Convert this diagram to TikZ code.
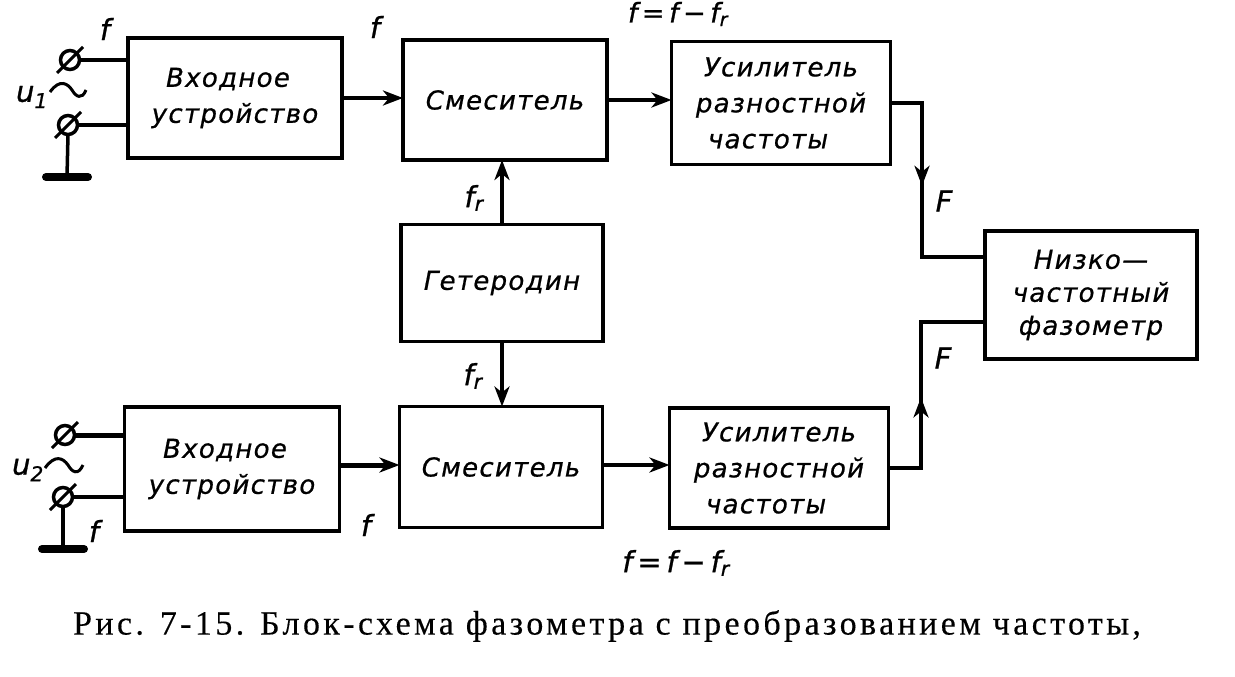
\documentclass[tikz,border=0pt]{standalone}
\usepackage{fontspec}
\setmainfont{Liberation Serif}
\newfontfamily\blockfont[LetterSpace=5,FakeBold=0.7]{DejaVu Sans}
\newfontfamily\labfont[FakeBold=0.9]{DejaVu Sans}
\newfontfamily\capfont[LetterSpace=10,FakeBold=0.3]{Liberation Serif}
\usetikzlibrary{arrows.meta,decorations.markings}
\tikzset{
  x=1pt,y=-1pt,
  blockbox/.style={draw=black,line width=3.5pt,fill=white,inner sep=0pt,outer sep=0pt,align=center,
    font=\blockfont\itshape\fontsize{26}{36}\selectfont},
  wire/.style={draw=black,line width=3.5pt},
  thickwire/.style={draw=black,line width=5pt},
  headend/.style={-{Stealth[length=20pt,width=15pt,inset=6pt]}},
  midhead/.style={postaction={decorate},decoration={markings,mark=at position #1 with {\arrow{Stealth[length=20pt,width=15pt,inset=6pt]}}}},
  term/.style={circle,draw=black,line width=3.5pt,minimum size=19pt,inner sep=0pt,outer sep=0pt},
  lab/.style={inner sep=0pt,font=\labfont\itshape\fontsize{29}{30}\selectfont},
  sl/.style={draw=black,line width=3pt},
  groundbar/.style={draw=black,line width=8pt,line cap=round},
}
\begin{document}
\begin{tikzpicture}
\useasboundingbox (0,0) rectangle (1235,677);
% blocks
\node[blockbox,minimum width=214pt,minimum height=120pt] (in1) at (235,98) {\hspace*{-0pt}Входное\hspace*{14pt}\\устройство};
\node[blockbox,minimum width=204pt,minimum height=120pt] (mx1) at (505,100) {Смеситель};
\node[blockbox,minimum width=219pt,minimum height=123pt] (am1) at (781,103) {Усилитель\\разностной\\частоты\hspace*{26pt}};
\node[blockbox,minimum width=202pt,minimum height=117pt] (het) at (502,283) {Гетеродин};
\node[blockbox,minimum width=215pt,minimum height=124pt] (in2) at (232,469) {Входное\hspace*{14pt}\\устройство};
\node[blockbox,minimum width=203pt,minimum height=121pt] (mx2) at (501,467) {Смеситель};
\node[blockbox,minimum width=219pt,minimum height=120pt] (am2) at (779,468) {Усилитель\\разностной\\частоты\hspace*{26pt}};
\node[blockbox,minimum width=212pt,minimum height=128pt,font=\blockfont\itshape\fontsize{26}{33}\selectfont] (ph) at (1091,295) {Низко—\\частотный\\фазометр};
% terminals
\node[term] (t1a) at (70,60) {};
\node[term] (t1b) at (68,125) {};
\node[term] (t2a) at (65,435) {};
\node[term] (t2b) at (63,497) {};
\foreach \n in {t1a,t1b,t2a,t2b}{
  \draw[sl] ([shift={(-13,13)}]\n.center) -- ([shift={(13,-13)}]\n.center);
}
\draw[wire] (t1a.east) -- (t1a.east -| in1.west);
\draw[wire] (t1b.east) -- (t1b.east -| in1.west);
\draw[thickwire] (t2a.east) -- (t2a.east -| in2.west);
\draw[wire] (t2b.east) -- (t2b.east -| in2.west);
% ground
\coordinate (g1) at (67,177);
\coordinate (g2) at (63,549);
\draw[wire] (t1b.south) -- (g1);
\draw[wire] (t2b.south) -- (g2);
\draw[groundbar] ([xshift=-21]g1) -- ([xshift=21]g1);
\draw[groundbar] ([xshift=-21]g2) -- ([xshift=21]g2);
% tilde
\draw[line width=3pt] (50,92) .. controls (60,78) and (68,84) .. (72,90) .. controls (76,97) and (82,100) .. (86,90);
\draw[line width=3pt] (45,468) .. controls (55,454) and (63,458) .. (68,465) .. controls (72,472) and (78,476) .. (83,465);
% connectors
\draw[wire,headend] (in1.east |- 0,98) -- (mx1.west |- 0,98);
\draw[wire,headend] (mx1.east |- 0,100) -- (am1.west |- 0,100);
\draw[thickwire,headend] (in2.east |- 0,465) -- (mx2.west |- 0,465);
\draw[wire,headend] (mx2.east |- 0,465) -- (am2.west |- 0,465);
\draw[wire,headend] (het.north) -- (het.north |- mx1.south);
\draw[wire,headend] (het.south) -- (het.south |- mx2.north);
\coordinate (e1) at (922,103);
\coordinate (e2) at (922,257);
\coordinate (e3) at (921,322);
\coordinate (e4) at (921,468);
\draw[wire,midhead=0.46] (e1 -| am1.east) -- (e1) -- (e2) -- (e2 -| ph.west);
\draw[wire,midhead=0.425] (e4 -| am2.east) -- (e4) -- (e3) -- (e3 -| ph.west);
% labels
\node[lab] (l1) at (105,29) {f};
\node[lab] (l2) at (375,27) {f};
\node[lab,font=\labfont\itshape\fontsize{27}{28}\selectfont] (l3) at (678,14) {f\,=\,f\,−\,f\textsubscript{r}};
\node[lab] (l4) at (474,198) {f\textsubscript{r}};
\node[lab] (l5) at (473,376) {f\textsubscript{r}};
\node[lab] (l6) at (944,201) {F};
\node[lab] (l7) at (943,358) {F};
\node[lab] (l8) at (94,531) {f};
\node[lab] (l9) at (366,525) {f};
\node[lab] (l10) at (676,563) {f\,=\,f\,−\,f\textsubscript{r}};
\node[lab] (l11) at (32,97) {u\textsubscript{1}};
\node[lab] (l12) at (28,470) {u\textsubscript{2}};
\node[inner sep=0pt,font=\capfont\fontsize{34}{36}\selectfont] (cap) at (607,626) {Рис. 7-15. Блок-схема фазометра с преобразованием частоты,};
\end{tikzpicture}
\end{document}
